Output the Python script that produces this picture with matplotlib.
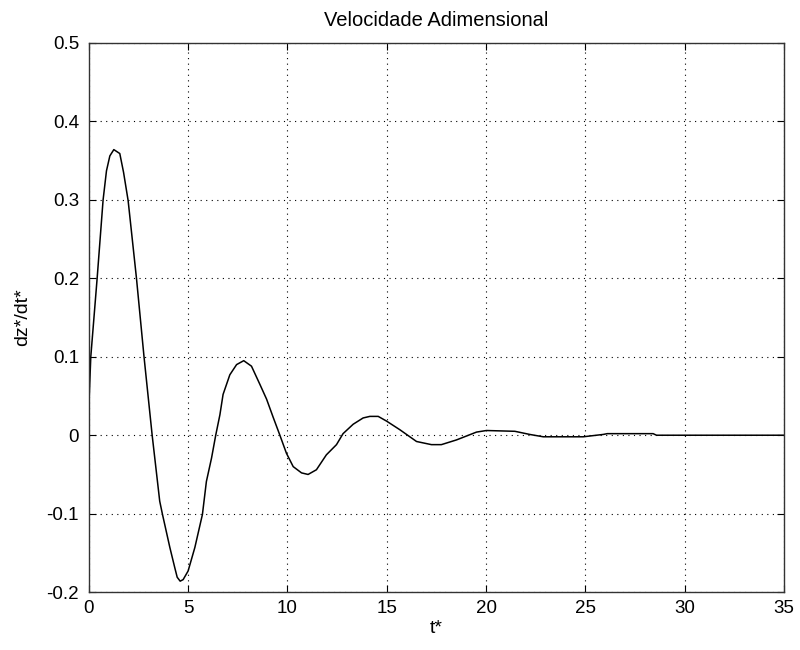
import matplotlib
matplotlib.use("Agg")
import numpy as np
import matplotlib.pyplot as plt

# values
t_star = [0.0, 0.1, 0.42, 0.72, 0.89, 1.06, 1.26, 1.56, 1.75, 1.98, 2.40, 2.78, 3.19,
          3.57, 3.71, 4.08, 4.33, 4.45, 4.6, 4.75, 5.0, 5.34, 5.72, 5.92, 6.18, 6.39,
          6.60, 6.76, 7.10, 7.44, 7.80, 8.19, 8.61, 8.95, 9.28, 9.62, 9.95, 10.29,
          10.71, 11.04, 11.46, 11.96, 12.47, 12.80, 13.31, 13.81, 14.15, 14.57,
          14.99, 15.66, 16.50, 17.25, 17.75, 18.51, 19.52, 20.02, 21.45, 22.2,
          22.88, 24.89, 25.90, 26.1, 28.41, 28.58, 35.0]
dz_dt = [0.035, 0.1, 0.2, 0.3, 0.337, 0.356, 0.364, 0.359, 0.335, 0.299, 0.2, 0.1, 0.0,
         -0.084, -0.101, -0.143, -0.169, -0.181, -0.186, -0.184, -0.173, -0.143, -0.101,
         -0.059, -0.029, 0.0, 0.026, 0.052, 0.077, 0.090, 0.095, 0.088, 0.065,
         0.046, 0.023, 0.0, -0.023, -0.040, -0.048, -0.050, -0.044, -0.025,
         -0.012, 0.002, 0.014, 0.022, 0.024, 0.024, 0.018, 0.007, -0.008, -0.012,
         -0.012, -0.006, 0.004, 0.006, 0.005, 0.001, -0.002, -0.002, 0.001, 0.002,
         0.002, 0.0, 0.0]

x_ticks = [0, 5, 10, 15, 20, 25, 30, 35]
y_ticks = [-0.2, -0.1, 0, 0.1, 0.2, 0.3, 0.4, 0.5]
y_labels = ["-0.2", "-0.1", "0", "0.1", "0.2", "0.3", "0.4", "0.5"]

plt.rcParams['font.family'] = ['Liberation Sans', 'DejaVu Sans']

fig = plt.figure(figsize=(8, 6.5), dpi=100)
ax = fig.add_axes([0.111, 0.089, 0.869, 0.845])

ax.plot(t_star, dz_dt, color='black', linewidth=1.1)

ax.set_xlim(0, 35)
ax.set_ylim(-0.2, 0.5)
ax.set_xticks(x_ticks)
ax.set_yticks(y_ticks)
ax.set_yticklabels(y_labels)
ax.tick_params(direction='in', top=True, right=True, length=5, labelsize=13.5)
ax.tick_params(axis='x', pad=6)
ax.tick_params(axis='y', pad=7)
ax.grid(True, color='black', linestyle=(0, (1, 4)), linewidth=0.8)
for s in ax.spines.values():
    s.set_linewidth(1.0)
    s.set_color('#333333')

ax.set_title("Velocidade Adimensional", fontsize=14.5, pad=12)
ax.set_xlabel("t*", fontsize=14, labelpad=2)
ax.set_ylabel("dz*/dt*", fontsize=14, labelpad=11)

fig.savefig("out.png", dpi=100)
